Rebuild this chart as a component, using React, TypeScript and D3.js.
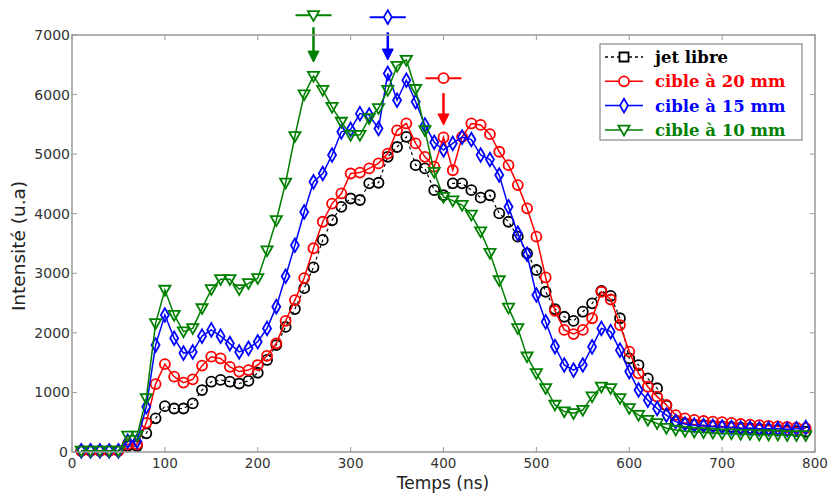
import React from "react";
import * as d3 from "d3";

const times = [10,20,30,40,50,60,70,80,90,100,110,120,130,140,150,160,170,180,190,200,210,220,230,240,250,260,270,280,290,300,310,320,330,340,350,360,370,380,390,400,410,420,430,440,450,460,470,480,490,500,510,520,530,540,550,560,570,580,590,600,610,620,630,640,650,660,670,680,690,700,710,720,730,740,750,760,770,780,790];

const jetLibre = [20,20,20,20,20,100,100,315,565,770,730,730,815,1040,1180,1210,1180,1150,1195,1330,1545,1795,2100,2400,2750,3100,3560,3890,4115,4255,4230,4510,4520,4955,5120,5290,4815,4760,4395,4310,4510,4510,4395,4270,4310,4005,3865,3615,3335,3055,2690,2400,2270,2200,2355,2495,2705,2620,2245,1570,1460,1235,1070,780,510,480,460,450,440,430,420,410,400,390,380,370,360,350,340];

const cible20 = [20,20,20,20,20,130,130,490,1140,1475,1265,1165,1220,1450,1600,1570,1430,1350,1375,1460,1615,1825,2200,2550,2920,3420,3865,4170,4340,4675,4690,4760,4845,5010,5400,5515,5180,4955,4790,5280,4730,5290,5515,5490,5335,5040,4815,4480,4090,3615,2930,2370,2050,1980,2050,2245,2690,2560,2130,1685,1320,1095,930,790,620,565,540,520,510,500,490,470,460,450,440,430,420,410,400];

const cible15 = [20,20,20,20,20,180,180,760,1795,2300,1910,1660,1680,1945,2050,1945,1820,1680,1740,1850,2075,2440,2950,3470,4030,4535,4675,4985,5375,5415,5680,5655,5430,6355,5905,6240,5880,5490,5200,5070,5180,5285,5245,4985,4910,4650,4115,3670,3320,2635,2185,1770,1460,1375,1460,1765,2075,2020,1710,1350,1040,870,730,620,510,470,450,440,430,420,410,400,400,390,390,390,380,390,410];

const cible10 = [20,20,20,20,20,270,270,900,2160,2720,2300,2020,2075,2410,2730,2900,2900,2730,2830,2915,3380,3890,4520,5300,6000,6310,6075,5790,5540,5320,5320,5600,5770,6075,6480,6580,6090,5400,4700,4280,4220,4145,3980,3700,3340,2880,2420,2075,1600,1320,1070,790,680,650,705,930,1095,1070,900,733,620,537,480,400,370,350,340,330,320,310,310,300,300,290,290,290,280,280,280];

const seriesNames = ["jet libre", "cible à 20 mm", "cible à 15 mm", "cible à 10 mm"];
const seriesValues = [jetLibre, cible20, cible15, cible10];
const seriesColors = ["#000000", "#ff0000", "#0000ff", "#008000"];
const seriesMarkers = ["circle", "circle", "diamond", "triangle"];
const legendMarkers = ["square", "circle", "diamond", "triangle"];

const xTicks = [0,100,200,300,400,500,600,700,800];
const yTicks = [0,1000,2000,3000,4000,5000,6000,7000];

// annotations: series index, time, marker level, arrow start, arrow tip
const annoSeries = [3, 2, 1];
const annoX = [260, 340, 400];
const annoMarker = [7330, 7300, 6275];
const annoArrowStart = [7130, 7045, 6025];
const annoArrowEnd = [6545, 6580, 5490];

function markerPath(kind: string): string {
  if (kind === "circle") {
    return d3.symbol(d3.symbolCircle, Math.PI * 5 * 5)() as string;
  }
  if (kind === "diamond") return "M0,-6.8L4,0L0,6.8L-4,0Z";
  if (kind === "triangle") return "M-5.6,-4.2L5.6,-4.2L0,5.6Z";
  return "M-4.5,-4.5L4.5,-4.5L4.5,4.5L-4.5,4.5Z";
}

export default function App() {
  const W = 831, H = 493;
  const x = d3.scaleLinear().domain([0, 800]).range([72, 815]);
  const y = d3.scaleLinear().domain([0, 7000]).range([452, 35]);
  const line = d3.line<number>().x((_, i) => x(times[i])).y((v) => y(v));
  const frame = "#999";
  const tickColor = "#333";

  return (
    <svg width={W} height={H} style={{ position: "fixed", left: 0, top: 0, background: "#fff" }}>
      <rect x={0} y={0} width={W} height={H} fill="#fff" />
      {/* ticks */}
      {xTicks.map((t) => (
        <g key={"xt" + t}>
          <line x1={x(t)} x2={x(t)} y1={452} y2={447} stroke={frame} strokeWidth={1} />
          <line x1={x(t)} x2={x(t)} y1={35} y2={40} stroke={frame} strokeWidth={1} />
          <text x={x(t)} y={468} textAnchor="middle" fontFamily="DejaVu Sans" fontSize={13.5} fill={tickColor}>{t}</text>
        </g>
      ))}
      {yTicks.map((t) => (
        <g key={"yt" + t}>
          <line x1={72} x2={77} y1={y(t)} y2={y(t)} stroke={frame} strokeWidth={1} />
          <line x1={815} x2={810} y1={y(t)} y2={y(t)} stroke={frame} strokeWidth={1} />
          <text x={t === 0 ? 68 : 70} y={y(t) + 5} textAnchor="end" fontFamily="DejaVu Sans" fontSize={14} fill={tickColor}>{t}</text>
        </g>
      ))}
      <text x={443} y={489} textAnchor="middle" fontFamily="DejaVu Sans" fontSize={17} fill="#222">Temps (ns)</text>
      <text transform={`translate(25,246) rotate(-90)`} textAnchor="middle" fontFamily="DejaVu Sans" fontSize={18.5} fill="#222">Intensité (u.a)</text>

      {/* series */}
      {seriesValues.map((vals, si) => (
        <g key={"s" + si}>
          <path d={line(vals) as string} fill="none" stroke={seriesColors[si]} strokeWidth={si === 0 ? 1.2 : 1.5}
            strokeDasharray={si === 0 ? "3,3" : undefined} />
          {vals.map((v, i) => (
            <path key={i} d={markerPath(seriesMarkers[si])} transform={`translate(${x(times[i])},${y(v)})`}
              fill="none" stroke={seriesColors[si]} strokeWidth={1.8} />
          ))}
        </g>
      ))}

      {/* annotations */}
      {annoX.map((ax, k) => {
        const c = seriesColors[annoSeries[k]];
        const px = x(ax);
        const my = y(annoMarker[k]);
        const y0 = y(annoArrowStart[k]);
        const y1 = y(annoArrowEnd[k]);
        return (
          <g key={"a" + k}>
            <line x1={px - 18} x2={px + 18} y1={my} y2={my} stroke={c} strokeWidth={2} />
            <path d={markerPath(seriesMarkers[annoSeries[k]])} transform={`translate(${px},${my})`} fill="#fff" stroke={c} strokeWidth={1.8} />
            <line x1={px} x2={px} y1={y0} y2={y1 - 9} stroke={c} strokeWidth={2.5} />
            <path d={`M${px - 5.5},${y1 - 11}L${px + 5.5},${y1 - 11}L${px},${y1}Z`} fill={c} stroke={c} strokeWidth={1} />
          </g>
        );
      })}

      {/* frame */}
      <rect x={72} y={35} width={743} height={417} fill="none" stroke={frame} strokeWidth={1.5} />

      {/* legend */}
      <rect x={600} y={44} width={202} height={96} fill="#fff" stroke="#888" strokeWidth={1.2} />
      {seriesNames.map((name, si) => {
        const by = 63 + si * 24.3;
        const cy = by - 6;
        return (
          <g key={"l" + si}>
            <line x1={605} x2={643} y1={cy} y2={cy} stroke={seriesColors[si]} strokeWidth={1.5}
              strokeDasharray={si === 0 ? "3,3" : undefined} />
            <path d={markerPath(legendMarkers[si])} transform={`translate(624,${cy})`} fill="#fff" stroke={seriesColors[si]} strokeWidth={1.8} />
            <text x={655} y={by} fontFamily="DejaVu Serif" fontWeight="bold" fontSize={16.5} fill={seriesColors[si]}>{name}</text>
          </g>
        );
      })}
    </svg>
  );
}
